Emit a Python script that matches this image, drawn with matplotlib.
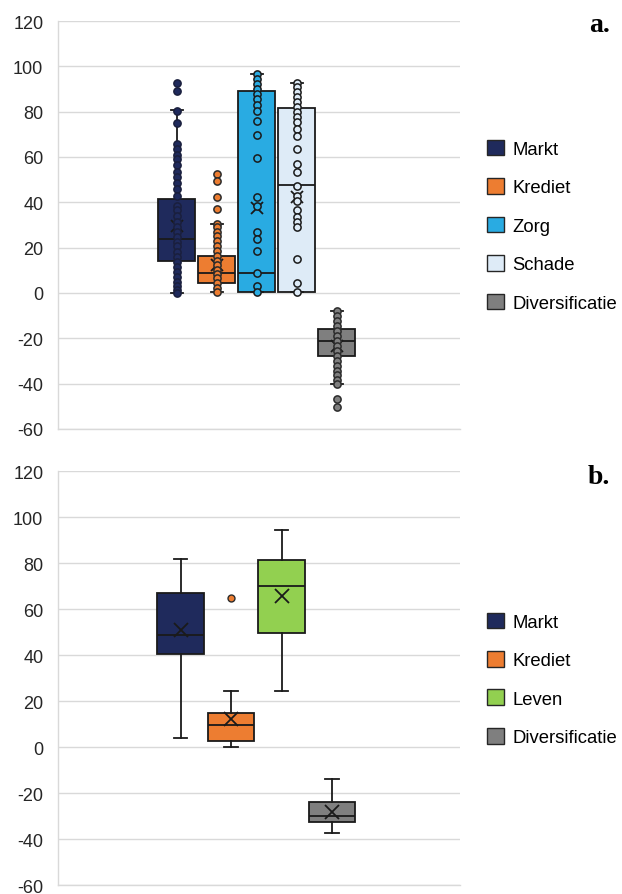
#!/usr/bin/env python3
"""
Box-and-whisker charts of risk components (a: with data points, b: summary only)
"""

from matplotlib import pyplot as plt
from matplotlib.patches import Patch

plt.rcParams['font.family'] = ['Liberation Sans', 'DejaVu Sans']

# ---- panel a ----
cats_a = ['Markt', 'Krediet', 'Zorg', 'Schade', 'Diversificatie']
colors_a = ['#1f2a5c', '#ed7d31', '#29abe2', '#deebf7', '#7f7f7f']
edges_a = ['#1a1f3d', '#2b2b2b', '#1a1a1a', '#1a1a1a', '#2b2b2b']

points_markt = [92.7, 89.3, 80.5, 74.9, 65.8, 63.6, 60.9, 58.9, 56.5, 53.6, 51.1,
                48.6, 45.9, 43.0, 38.5, 36.4, 34.1, 31.5, 29.0, 26.8, 24.6, 22.6,
                20.6, 18.2, 15.9, 13.5, 11.3, 9.1, 6.9, 5.0, 3.2, 1.4, 0.2]
points_krediet = [52.5, 49.2, 42.2, 37.1, 30.5, 29.0, 27.1, 25.3, 23.1, 20.9, 18.7,
                  16.5, 14.3, 12.4, 10.3, 8.4, 6.5, 4.4, 2.3, 0.6]
points_zorg = [96.7, 94.5, 92.3, 90.1, 87.9, 85.6, 83.1, 80.5, 75.8, 69.5, 59.5,
               42.2, 38.5, 26.8, 23.8, 18.7, 8.8, 3.2, 0.6]
points_schade = [92.7, 90.8, 88.6, 86.4, 84.2, 82.0, 79.8, 77.6, 75.4, 72.4, 69.2,
                 63.6, 57.0, 53.6, 47.4, 43.0, 40.8, 36.4, 33.4, 31.2, 29.0, 15.0,
                 4.4, 0.3]
points_div = [-7.8, -10.0, -12.2, -14.4, -16.6, -18.9, -21.1, -23.3, -25.5, -27.7,
              -29.9, -32.1, -34.3, -36.2, -38.3, -40.2, -46.6, -50.5]
points_a = [points_markt, points_krediet, points_zorg, points_schade, points_div]

# box statistics: low whisker, Q1, median, Q3, high whisker, mean
whislo_a = [0.2, 0.6, 0.3, 0.3, -40.2]
q1_a = [14.1, 4.3, 0.3, 0.3, -27.7]
med_a = [23.8, 8.7, 8.8, 47.7, -21.0]
q3_a = [41.5, 16.2, 89.3, 81.4, -15.9]
whishi_a = [80.9, 30.5, 96.7, 92.7, -7.8]
mean_a = [29.7, 12.4, 37.5, 42.2, -23.3]

# ---- panel b ----
cats_b = ['Markt', 'Krediet', 'Leven', 'Diversificatie']
colors_b = ['#1f2a5c', '#ed7d31', '#92d050', '#7f7f7f']
whislo_b = [4.0, 0.0, 24.2, -37.5]
q1_b = [40.4, 2.6, 49.6, -32.8]
med_b = [48.7, 9.6, 69.9, -29.9]
q3_b = [66.8, 15.0, 81.2, -24.1]
whishi_b = [81.6, 24.2, 94.2, -13.7]
mean_b = [50.9, 12.2, 65.7, -28.4]
fliers_b = [[], [64.9], [], []]

yticks = [-60, -40, -20, 0, 20, 40, 60, 80, 100, 120]


def make_stats(lo, q1, med, q3, hi, mean, fliers=None):
    stats = []
    for i in range(len(lo)):
        stats.append(dict(whislo=lo[i], q1=q1[i], med=med[i], q3=q3[i],
                          whishi=hi[i], mean=mean[i],
                          fliers=fliers[i] if fliers else []))
    return stats


def style_axis(ax):
    ax.set_ylim(-60, 120)
    ax.set_yticks(yticks)
    ax.set_yticklabels([str(t) for t in yticks], fontsize=13, color='#262626')
    ax.tick_params(axis='y', length=0, pad=10.5)
    ax.set_xticks([])
    ax.grid(True, axis='y', color='#d9d9d9', linewidth=1)
    ax.set_axisbelow(True)
    for side in ['top', 'right']:
        ax.spines[side].set_visible(False)
    for side in ['left', 'bottom']:
        ax.spines[side].set_color('#d9d9d9')
        ax.spines[side].set_linewidth(1)


legend_kw = dict(loc='upper left', frameon=False, fontsize=13.3, handlelength=0.92,
                 handleheight=0.92, handletextpad=0.45, labelspacing=1.1,
                 borderaxespad=0)

fig = plt.figure(figsize=(6.22, 8.95), dpi=100)
ax_a = fig.add_axes([0.093, 0.5196, 0.6463, 0.4558])
ax_b = fig.add_axes([0.093, 0.0100, 0.6463, 0.4626])

# Panel a
pos_a = [1, 2, 3, 4, 5]
stats_a = make_stats(whislo_a, q1_a, med_a, q3_a, whishi_a, mean_a)
bp = ax_a.bxp(stats_a, positions=pos_a, widths=0.92, patch_artist=True,
              showmeans=True, showfliers=False, capwidths=0.3,
              boxprops=dict(linewidth=1.3, edgecolor='#1a1a1a'),
              medianprops=dict(color='#1a1a1a', linewidth=1.3),
              whiskerprops=dict(color='#1a1a1a', linewidth=1.3),
              capprops=dict(color='#1a1a1a', linewidth=1.3),
              meanprops=dict(marker='x', markeredgecolor='#1a1a1a',
                             markersize=9, markeredgewidth=1.3))
for patch, c in zip(bp['boxes'], colors_a):
    patch.set_facecolor(c)
for i, pts in enumerate(points_a):
    ax_a.plot([pos_a[i]] * len(pts), pts, 'o', markersize=5.2,
              markerfacecolor=colors_a[i], markeredgecolor=edges_a[i],
              markeredgewidth=1.1, zorder=4)
ax_a.set_xlim(-1.975, 8.075)
style_axis(ax_a)

handles_a = [Patch(facecolor=c, edgecolor='#262626', linewidth=1) for c in colors_a]
ax_a.legend(handles_a, cats_a, bbox_to_anchor=(1.05, 0.727), **legend_kw)

# Panel b
pos_b = [1, 2, 3, 4]
stats_b = make_stats(whislo_b, q1_b, med_b, q3_b, whishi_b, mean_b, fliers_b)
bp = ax_b.bxp(stats_b, positions=pos_b, widths=0.92, patch_artist=True,
              showmeans=True, showfliers=True, capwidths=0.26,
              boxprops=dict(linewidth=1.3, edgecolor='#1a1a1a'),
              medianprops=dict(color='#1a1a1a', linewidth=1.3),
              whiskerprops=dict(color='#1a1a1a', linewidth=1.3),
              capprops=dict(color='#1a1a1a', linewidth=1.3),
              meanprops=dict(marker='x', markeredgecolor='#1a1a1a',
                             markersize=10, markeredgewidth=1.3),
              flierprops=dict(marker='o', markerfacecolor='#ed7d31',
                              markeredgecolor='#2b2b2b', markersize=5,
                              markeredgewidth=1))
for patch, c in zip(bp['boxes'], colors_b):
    patch.set_facecolor(c)
ax_b.set_xlim(1 - (180.7 - 58) / 50.5, 1 + (460 - 180.7) / 50.5)
style_axis(ax_b)

handles_b = [Patch(facecolor=c, edgecolor='#262626', linewidth=1) for c in colors_b]
ax_b.legend(handles_b, cats_b, bbox_to_anchor=(1.05, 0.676), **legend_kw)

# Panel labels
fig.text(0.98, 0.971, 'a.', fontsize=20, fontweight='bold', family='Liberation Serif',
         ha='right', va='center')
fig.text(0.98, 0.466, 'b.', fontsize=20, fontweight='bold', family='Liberation Serif',
         ha='right', va='center')

plt.savefig('out.png', dpi=100)
